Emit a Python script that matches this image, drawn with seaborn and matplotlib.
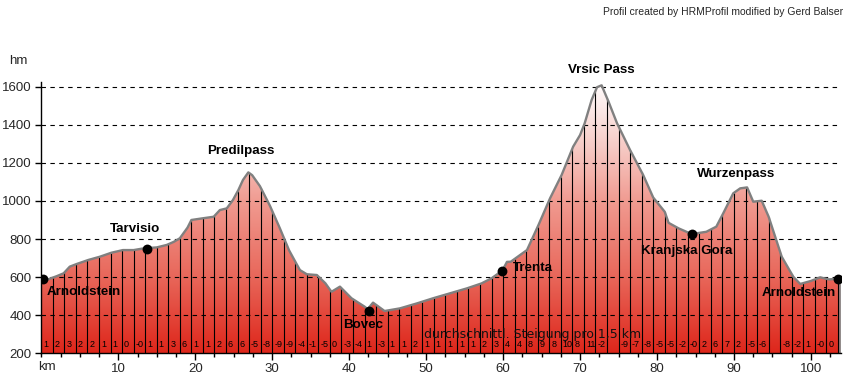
import numpy as np
import pandas as pd
import matplotlib
matplotlib.use("Agg")
import matplotlib.pyplot as plt
import seaborn as sns
from matplotlib.colors import LinearSegmentedColormap
from matplotlib.patches import Polygon
from matplotlib.ticker import MultipleLocator

# ---------------- data ----------------
profile_km = [0.0, 1.0, 2.0, 2.9, 3.7, 4.6, 6.1, 7.6, 9.1, 10.6, 12.0, 13.3, 15.0, 16.3,
              17.2, 18.0, 19.0, 19.5, 21.0, 22.4, 23.2, 24.1, 24.9, 25.6, 26.2, 26.9,
              27.4, 28.4, 29.7, 31.0, 32.2, 33.0, 33.6, 34.5, 35.8, 36.9, 37.7, 38.8,
              40.3, 42.0, 42.4, 43.1, 44.6, 46.6, 48.8, 50.9, 53.1, 55.3, 57.2, 58.5,
              59.9, 60.5, 61.0, 63.1, 64.6, 66.1, 67.6, 69.1, 70.0, 70.6, 71.5, 72.2,
              72.8, 73.7, 74.8, 76.5, 78.2, 79.5, 81.0, 81.5, 82.8, 84.5, 86.4, 87.7,
              88.6, 89.9, 90.8, 91.7, 92.5, 93.6, 94.5, 96.2, 97.7, 98.6, 100.0, 101.2,
              102.3, 103.8]
profile_elev = [578, 590, 605, 620, 655, 669, 690, 707, 728, 742, 742, 751, 756, 769,
                785, 804, 860, 900, 909, 917, 952, 961, 1005, 1057, 1110, 1150,
                1135, 1078, 975, 856, 740, 681, 637, 615, 611, 568, 523, 550,
                489, 445, 432, 466, 422, 436, 462, 489, 515, 541, 567, 594,
                634, 680, 681, 742, 874, 1014, 1136, 1285, 1346, 1408, 1530, 1597,
                1607, 1521, 1408, 1267, 1136, 1018, 943, 885, 856, 826, 838, 865,
                935, 1040, 1066, 1071, 996, 1001, 917, 707, 602, 564, 580, 599,
                588, 592]

place_names = ["Arnoldstein", "Tarvisio", "Predilpass", "Bovec", "Trenta",
               "Vrsic Pass", "Kranjska Gora", "Wurzenpass", "Arnoldstein"]
# label anchor positions (km, hm), alignment
place_label_pos = [(0.7, 523, "left"), (8.9, 851, "left"), (25.9, 1262, "center"),
                   (39.2, 349, "left"), (61.3, 650, "left"), (72.8, 1685, "center"),
                   (77.9, 739, "left"), (85.2, 1142, "left"), (93.6, 518, "left")]

marker_km = [0.2, 13.7, 42.6, 59.9, 84.6, 103.5]
marker_elev = [588, 746, 424, 634, 825, 588]

segment_len = 1.5
segment_labels = ["1", "2", "3", "2", "2", "1", "1", "0", "-0", "1", "1", "3", "6", "1",
                  "1", "2", "6", "6", "-5", "-8", "-9", "-9", "-4", "-1", "-5", "0",
                  "-3", "-4", "1", "-3", "1", "1", "2",
                  "1", "1", "1", "1", "1", "2", "3", "4", "4", "8", "9", "8", "10",
                  "8", "11", "-2", "", "-9", "-7", "-8", "-5", "-5", "-2", "-0", "2",
                  "6", "7", "2", "-5", "-6", "", "-8", "-2", "1", "-0", "0"]

x_ticks = [10, 20, 30, 40, 50, 60, 70, 80, 90, 100]
y_ticks = [200, 400, 600, 800, 1000, 1200, 1400, 1600]

# ---------------- figure ----------------
sns.set_style("white")
plt.rcParams["font.family"] = ["Liberation Sans", "DejaVu Sans"]

W, H = 849, 380
fig = plt.figure(figsize=(W / 100, H / 100), dpi=100)
x0_px, x1_px = 41.3, 841.0
ybot_px, ytop_px = 353.3, 81.7
ax = fig.add_axes([x0_px / W, (H - ybot_px) / H, (x1_px - x0_px) / W, (ybot_px - ytop_px) / H])
xmax = 103.9
ymin, ymax = 200, 1626

df = pd.DataFrame({"km": profile_km, "hm": profile_elev})

# gradient fill clipped to profile
cmap = LinearSegmentedColormap.from_list(
    "prof",
    [(0.0, (0.870, 0.150, 0.105)),
     (0.28, (0.910, 0.400, 0.350)),
     (0.56, (0.941, 0.600, 0.560)),
     (0.77, (0.965, 0.790, 0.770)),
     (1.0, (1.0, 0.98, 0.98))])
grad = np.linspace(0, 1, 256).reshape(-1, 1)
im = ax.imshow(grad, extent=[0, xmax, 200, 1600], origin="lower", aspect="auto",
               cmap=cmap, zorder=1)
verts = list(zip(profile_km, profile_elev)) + [(profile_km[-1], 200), (profile_km[0], 200)]
poly = Polygon(verts, closed=True, facecolor="none", edgecolor="none", transform=ax.transData)
ax.add_patch(poly)
im.set_clip_path(poly)

# grid lines (dashed, above the fill)
for yv in y_ticks[1:]:
    ax.axhline(yv, color="black", lw=0.8, ls=(0, (4, 4)), zorder=3)

# segment lines
n_seg = len(segment_labels)
seg_starts = np.arange(n_seg) * segment_len
seg_lines = seg_starts[1:].tolist() + [n_seg * segment_len]
tops = np.interp(seg_lines, profile_km, profile_elev)
ax.vlines(seg_lines, 200, tops, color="black", lw=0.8, zorder=4)

# profile outline
sns.lineplot(data=df, x="km", y="hm", color="#808080", lw=1.7, ax=ax, zorder=5,
             sort=False)
ax.plot([profile_km[-1], profile_km[-1]], [200, profile_elev[-1]], color="#808080",
        lw=1.2, zorder=5)

# markers
sns.scatterplot(x=marker_km, y=marker_elev, color="black", s=50, ax=ax, zorder=6,
                edgecolor="black", linewidth=0)

# place labels
for name, (kx, ky, ha) in zip(place_names, place_label_pos):
    ax.text(kx, ky, name, fontsize=9.6, fontweight="bold", ha=ha, va="center",
            color="black", zorder=7, clip_on=False)

# segment gradient labels
for s, lab in zip(seg_starts, segment_labels):
    if lab:
        ax.text(s + 0.25, 244, lab, fontsize=6.5, ha="left", va="center",
                color="black", zorder=7)

ax.text(49.7, 301, "durchschnittl. Steigung pro 1,5 km", fontsize=9,
        family="DejaVu Sans", ha="left", va="center", color="#111111", zorder=7)

ax.set_xlim(0, xmax)
ax.set_ylim(ymin, ymax)

# axes styling
ax.set_xlabel("")
ax.set_ylabel("")
for side in ["top", "right"]:
    ax.spines[side].set_visible(False)
for side in ["left", "bottom"]:
    ax.spines[side].set_color("black")
    ax.spines[side].set_linewidth(1.0)
    ax.spines[side].set_zorder(8)
ax.set_xticks(x_ticks)
ax.set_xticklabels([str(v) for v in x_ticks], fontsize=9.5)
ax.xaxis.set_minor_locator(MultipleLocator(2.5))
ax.set_yticks(y_ticks)
ax.set_yticklabels([str(v) for v in y_ticks], fontsize=9.5)
ax.tick_params(axis="x", which="major", length=5, width=1, color="black", pad=2,
               direction="out", bottom=True)
ax.tick_params(axis="x", which="minor", length=3, width=1, color="black", bottom=True)
ax.tick_params(axis="y", which="major", length=4, width=1, color="black", pad=3,
               direction="out", left=True)
ax.grid(False)

fig.text(47 / W, 1 - 367 / H, "km", fontsize=9.5, ha="center", va="center")
fig.text(18 / W, 1 - 61 / H, "hm", fontsize=9.5, ha="center", va="center")
fig.text(843 / W, 1 - 12 / H, "Profil created by HRMProfil modified by Gerd Balser",
         fontsize=7.5, ha="right", va="center")

fig.savefig("out.png", dpi=100)
